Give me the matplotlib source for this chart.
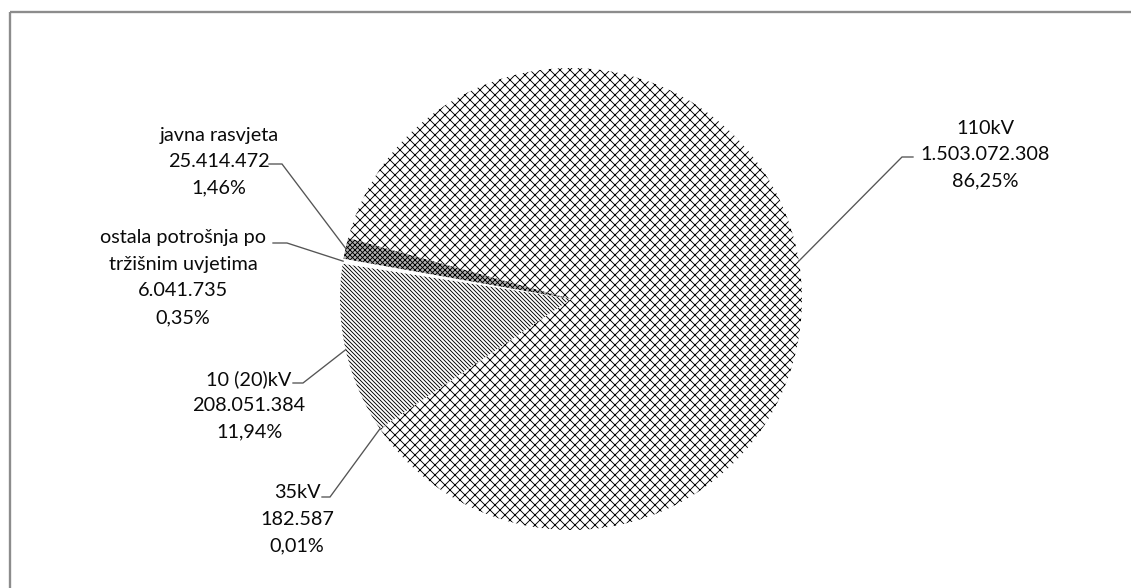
import matplotlib
matplotlib.use("Agg")
import matplotlib.pyplot as plt
import numpy as np

# ---- data ----
categories = ["110kV", "35kV", "10 (20)kV", "ostala potrošnja po\ntržišnim uvjetima", "javna rasvjeta"]
values = [1503072308, 182587, 208051384, 6041735, 25414472]

# ---- styles ----
face_colors = ["white", "white", "white", "white", "#b5b5b5"]
hatches = ["xxxx", "", "\\" * 10, "", "x" * 8]

# label block layout (pixel coords of the first text line centre, line step)
label_pos = [(985, 128), (297, 493), (249, 379), (183, 238), (219, 135)]
line_step = 26.5
# connector: (knee x, knee y, horizontal end x)
knees = [(902, 157, 913), (330, 497, 322), (303, 383, 293), (287, 243, 273), (282, 164, 269)]

W, H = 1131, 588
DPI = 120
plt.rcParams["hatch.linewidth"] = 0.55
plt.rcParams["font.family"] = ["Lato", "DejaVu Sans"]

fig = plt.figure(figsize=(W / DPI, H / DPI), dpi=DPI)
ax = fig.add_axes([0, 0, 1, 1])

def Y(y):
    return H - y

cx, cy, r = 571, Y(299), 231
wedges, _ = ax.pie(values, startangle=164.7, counterclock=False, radius=r,
                   center=(cx, cy), colors=face_colors, frame=True,
                   wedgeprops=dict(linewidth=0, edgecolor="black"))
for w, h in zip(wedges, hatches):
    w.set_hatch(h)
    w.set_edgecolor("black")
    w.set_linewidth(0)

total = sum(values)

def fmt_int(v):
    return f"{v:,}".replace(",", ".")

def fmt_pct(v):
    return f"{100 * v / total:.2f}%".replace(".", ",")

for w, cat, val, (lx, ly), (kx, ky, hx) in zip(wedges, categories, values, label_pos, knees):
    lines = cat.split("\n") + [fmt_int(val), fmt_pct(val)]
    for i, t in enumerate(lines):
        ax.text(lx, Y(ly + i * line_step), t, ha="center", va="center",
                fontsize=11.9, color="#0a0a0a")
    mid = np.deg2rad((w.theta1 + w.theta2) / 2)
    ex, ey = cx + r * np.cos(mid), cy + r * np.sin(mid)
    ax.plot([ex, kx, hx], [ey, Y(ky), Y(ky)], color="#555555", lw=0.8,
            solid_joinstyle="miter")

# chart frame (only top & left visible)
ax.plot([9.5, W + 5], [Y(12), Y(12)], color="#8c8c8c", lw=1.4, solid_capstyle="butt")
ax.plot([9.5, 9.5], [Y(12), -5], color="#8c8c8c", lw=1.4, solid_capstyle="butt")

ax.set_xlim(0, W)
ax.set_ylim(0, H)
ax.set_aspect("auto")
ax.axis("off")

fig.savefig("out.png", dpi=DPI, facecolor="white")
